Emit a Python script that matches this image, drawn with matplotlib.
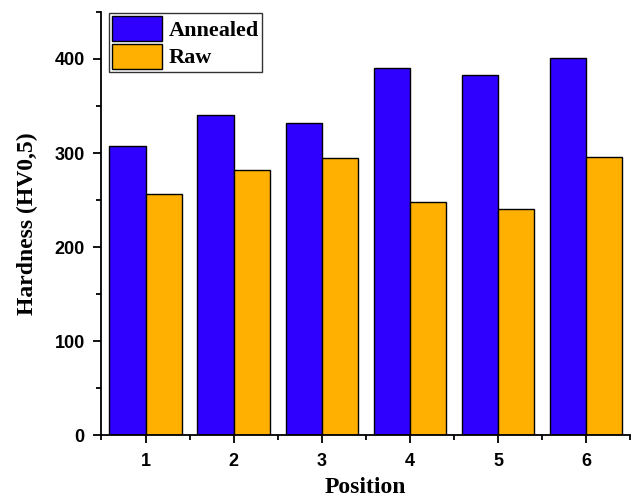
import matplotlib.pyplot as plt
from matplotlib.ticker import MultipleLocator
import numpy as np

positions = [1, 2, 3, 4, 5, 6]
annealed = [308, 340, 332, 390, 383, 401]
raw = [256, 282, 295, 248, 240, 296]

fig = plt.figure(figsize=(6.34, 4.99), dpi=100)
ax = fig.add_axes([0.160, 0.128, 0.834, 0.848])

x = np.array(positions)
w = 0.41
ax.bar(x - w / 2, annealed, w, color='#3000FF', edgecolor='black', linewidth=1, label='Annealed')
ax.bar(x + w / 2, raw, w, color='#FFB000', edgecolor='black', linewidth=1, label='Raw')

ax.set_xlim(0.5, 6.5)
ax.set_ylim(0, 450)
ax.set_xticks(positions)
ax.xaxis.set_minor_locator(MultipleLocator(0.5))
ax.yaxis.set_major_locator(MultipleLocator(100))
ax.yaxis.set_minor_locator(MultipleLocator(50))

for s in ['top', 'right']:
    ax.spines[s].set_visible(False)
for s in ['left', 'bottom']:
    ax.spines[s].set_linewidth(1.3)
ax.tick_params(which='major', direction='out', length=6, width=1.3)
ax.tick_params(which='minor', direction='out', length=3.5, width=1.3)
ax.tick_params(axis='x', which='major', pad=7)
ax.tick_params(axis='y', which='major', pad=6)

for lab in ax.get_xticklabels() + ax.get_yticklabels():
    lab.set_fontfamily('Liberation Sans')
    lab.set_fontweight('bold')
    lab.set_fontsize(13)

ax.set_xlabel('Position', family='Liberation Serif', weight='bold', fontsize=17, labelpad=5)
ax.set_ylabel('Hardness (HV0,5)', family='Liberation Serif', weight='bold', fontsize=17, labelpad=12)

leg = ax.legend(loc='upper left', bbox_to_anchor=(0.012, 1.0), prop={'family': 'Liberation Serif', 'weight': 'bold', 'size': 16},
                frameon=True, fancybox=False, edgecolor='black', handlelength=2.25, handleheight=1.35,
                borderpad=0.15, labelspacing=0.1, handletextpad=0.3, borderaxespad=0.05)
leg.get_frame().set_linewidth(1)

fig.savefig('out.png', dpi=100)
